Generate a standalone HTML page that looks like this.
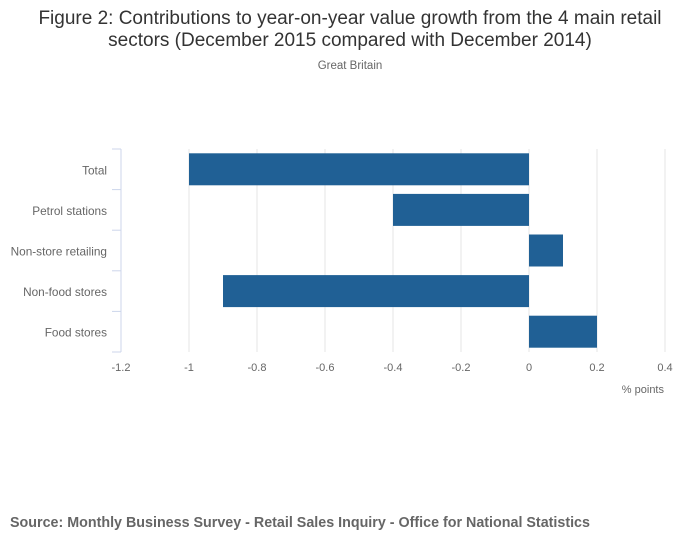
<!DOCTYPE html>
<html><head><meta charset="utf-8"><style>
body{margin:0;background:#fff;font-family:"Liberation Sans",sans-serif}
svg text{font-family:"Liberation Sans",sans-serif}
</style></head><body>
<svg width="700" height="549" xmlns="http://www.w3.org/2000/svg">
<text x="350" y="24" text-anchor="middle" font-size="19" fill="#333">Figure 2: Contributions to year-on-year value growth from the 4 main retail</text>
<text x="350" y="46" text-anchor="middle" font-size="19" fill="#333">sectors (December 2015 compared with December 2014)</text>
<text x="350" y="69" text-anchor="middle" font-size="11.5" fill="#666">Great Britain</text>
<g id="grid"></g><g id="bars"></g><g id="axes"></g>
<text x="664" y="393" text-anchor="end" font-size="11" fill="#666">% points</text>
<text x="10" y="527" font-size="14.3" font-weight="bold" fill="#666">Source: Monthly Business Survey - Retail Sales Inquiry - Office for National Statistics</text>
</svg>
<script>
const categories=["Total","Petrol stations","Non-store retailing","Non-food stores","Food stores"];
const values=[-1.0,-0.4,0.1,-0.9,0.2];
const xTicks=[-1.2,-1,-0.8,-0.6,-0.4,-0.2,0,0.2,0.4];
(function(){
const NS="http://www.w3.org/2000/svg";
const x0=121,x1=665,vmin=-1.2,vmax=0.4,plotTop=149,plotBot=352;
const xs=v=>x0+(v-vmin)/(vmax-vmin)*(x1-x0);
const band=(plotBot-plotTop)/categories.length;
function mk(t,a,p){const e=document.createElementNS(NS,t);for(const k in a)e.setAttribute(k,a[k]);document.getElementById(p).appendChild(e);return e;}
xTicks.forEach(v=>{
 if(v!==vmin){const g=mk('line',{x1:xs(v),x2:xs(v),y1:plotTop,y2:plotBot,stroke:'#e6e6e6'},'grid');
 
 }
 const t=mk('text',{x:xs(v),y:371,'text-anchor':'middle','font-size':11,fill:'#666'},'axes');
 t.textContent=String(v);
 
 
});
const al=mk('line',{x1:x0,x2:x0,y1:plotTop,y2:plotBot,stroke:'#ccd6eb'},'axes');


for(let i=0;i<=categories.length;i++){
 const y=plotTop+i*band;
 const tk=mk('line',{x1:x0-9,x2:x0,y1:y,y2:y,stroke:'#ccd6eb'},'axes');
 
 
}
categories.forEach((c,i)=>{
 const yc=plotTop+(i+0.5)*band;
 const t=mk('text',{x:107,y:yc+5,'text-anchor':'end','font-size':11.8,fill:'#666'},'axes');
 t.textContent=c;
 
 
 const v=values[i];
 const a=Math.min(xs(v),xs(0)),w=Math.abs(xs(v)-xs(0));
 const r=mk('rect',{x:a,y:yc-16,width:w,height:32,fill:'#206095'},'bars');
 
 
});
})();
</script>
</body></html>
